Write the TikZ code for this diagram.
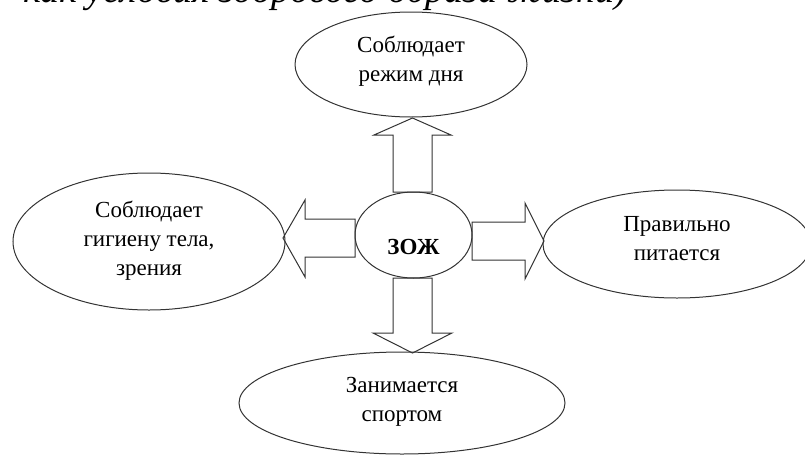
\documentclass[tikz,border=0pt]{standalone}
\usepackage{fontspec}
\setmainfont{Liberation Serif}
\usetikzlibrary{shapes.geometric,calc}
\begin{document}
\begin{tikzpicture}[x=1pt,y=-1pt,
  bubble/.style={draw=black!80, line width=1pt, ellipse, inner sep=0pt, outer sep=0pt},
  bubbletext/.style={align=center, inner sep=0pt, font=\fontsize{23}{29}\selectfont},
  blockarr/.style={draw=black!80, line width=1pt, line join=miter},
  headtext/.style={anchor=base east, inner sep=0pt, font=\itshape\fontsize{38}{42}\selectfont}]
\useasboundingbox (0,0) rectangle (805,455);
\clip (0,0) rectangle (805,455);

% cropped caption at the top
\node[headtext] (head) at (627,2) {как условия здорового образа жизни)};

% ellipses
\node[bubble, minimum width=117pt, minimum height=86pt] (C) at (413.5,235) {};
\node[bubble, minimum width=232pt, minimum height=105pt] (T) at (411,64.5) {};
\node[bubble, minimum width=272pt, minimum height=137pt] (L) at (149,241.5) {};
\node[bubble, minimum width=268pt, minimum height=108pt] (R) at (677,244) {};
\node[bubble, minimum width=326pt, minimum height=102pt] (B) at (402,403) {};

% texts
\node[inner sep=0pt, font=\bfseries\fontsize{23}{28}\selectfont] (Ct) at ($(C.center)+(0,12)$) {ЗОЖ};
\node[bubbletext] (Tt) at ($(T.center)+(0,-3)$) {Соблюдает\\режим дня};
\node[bubbletext] (Lt) at ($(L.center)+(0,-1)$) {Соблюдает\\гигиену тела,\\зрения};
\node[bubbletext] (Rt) at ($(R.center)+(0,-5)$) {Правильно\\питается};
\node[bubbletext] (Bt) at ($(B.center)+(0,-1)$) {Занимается\\спортом};

% block arrows
\draw[blockarr] let \p1=(C.north), \p2=(T.south) in
  (393pt,\y1) -- (393pt,\y2-18pt) -- (374pt,\y2-18pt) -- (412.5pt,\y2-1pt)
  -- (451pt,\y2-18pt) -- (432pt,\y2-18pt) -- (432pt,\y1) -- cycle;
\draw[blockarr] let \p1=(C.south), \p2=(B.north) in
  (393pt,\y1) -- (393pt,\y2+19pt) -- (373pt,\y2+19pt) -- (412.5pt,\y2-1pt)
  -- (452pt,\y2+19pt) -- (432pt,\y2+19pt) -- (432pt,\y1) -- cycle;
\draw[blockarr] let \p1=(C.west), \p2=(L.east) in
  (\x1,-219pt) -- (\x2+20pt,-219pt) -- (\x2+20pt,-200pt) -- (\x2-2pt,-238pt)
  -- (\x2+20pt,-277pt) -- (\x2+20pt,-257pt) -- (\x1,-257pt) -- cycle;
\draw[blockarr] let \p1=(C.east), \p2=(R.west) in
  (\x1,-222pt) -- (\x2-18pt,-222pt) -- (\x2-18pt,-203pt) -- (\x2+1pt,-241pt)
  -- (\x2-18pt,-279pt) -- (\x2-18pt,-260pt) -- (\x1,-260pt) -- cycle;
\end{tikzpicture}
\end{document}
